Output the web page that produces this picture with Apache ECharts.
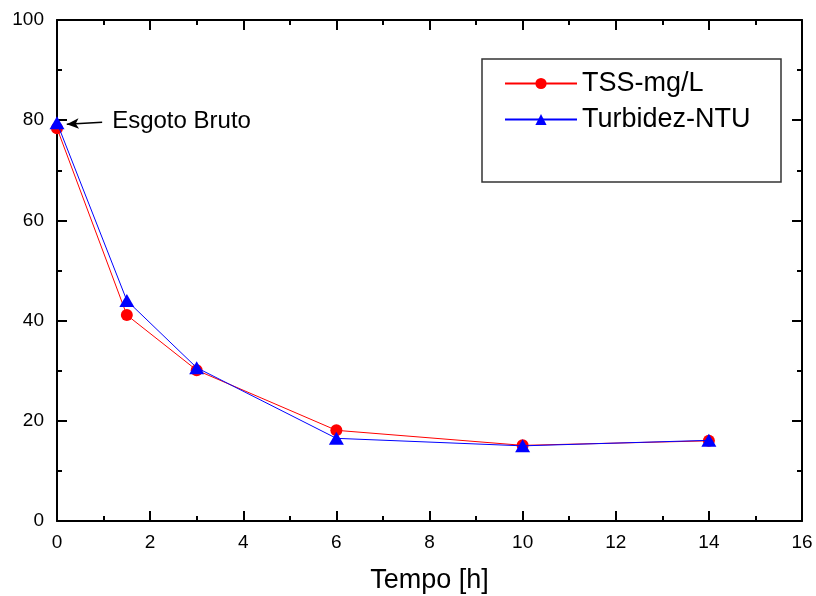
<!DOCTYPE html>
<html>
<head>
<meta charset="utf-8">
<script src="https://cdn.jsdelivr.net/npm/echarts@6/dist/echarts.min.js"></script>
<style>
  html, body { margin: 0; padding: 0; background: #fff; }
  #chart { width: 816px; height: 596px; }
</style>
</head>
<body>
<div id="chart"></div>
<script>
// tempo [h]
const tempo = [0, 1.5, 3, 6, 10, 14];
const tss = [78.4, 41.1, 30.1, 18.1, 15.1, 16.0];
const turbidez = [79.5, 44.0, 30.6, 16.5, 15.0, 16.1];

const font = 'Liberation Sans, Arial, sans-serif';

const pairs = (xs, ys) => xs.map((x, i) => [x, ys[i]]);

const chart = echarts.init(document.getElementById('chart'));

const tickCommon = {
    axisLine: { show: true, onZero: false, lineStyle: { color: '#000', width: 2 } },
    axisTick: { show: true, inside: true, length: 10, lineStyle: { color: '#000', width: 2 } },
    minorTick: { show: true, splitNumber: 2, length: 5, lineStyle: { color: '#000', width: 2 } },
    splitLine: { show: false },
    minorSplitLine: { show: false }
};

chart.setOption({
    animation: false,
    textStyle: { fontFamily: font },
    grid: { left: 57, right: 14, top: 20, bottom: 75, outerBoundsMode: 'none' },
    legend: {
        orient: 'vertical',
        left: 499,
        top: 65,
        itemWidth: 72,
        itemHeight: 14,
        itemGap: 9,
        textStyle: { fontSize: 27, color: '#000', fontFamily: font },
        data: ['TSS-mg/L', 'Turbidez-NTU']
    },
    graphic: [{
        type: 'rect',
        shape: { x: 482, y: 59, width: 299, height: 123 },
        style: { fill: 'none', stroke: '#333', lineWidth: 1.5 },
        z: 10
    }],
    xAxis: [{
        type: 'value', min: 0, max: 16, interval: 2,
        ...tickCommon,
        name: 'Tempo [h]', nameLocation: 'middle', nameGap: 46,
        nameTextStyle: { fontSize: 27, color: '#000', fontFamily: font },
        axisLabel: { fontSize: 19, color: '#000', margin: 12, fontFamily: font }
    }, {
        type: 'value', min: 0, max: 16, interval: 2, position: 'top',
        ...tickCommon,
        axisLabel: { show: false }
    }],
    yAxis: [{
        type: 'value', min: 0, max: 100, interval: 20,
        ...tickCommon,
        axisLabel: { fontSize: 19, color: '#000', margin: 13, fontFamily: font }
    }, {
        type: 'value', min: 0, max: 100, interval: 20, position: 'right',
        ...tickCommon,
        axisLabel: { show: false }
    }],
    series: [{
        name: 'TSS-mg/L',
        type: 'line',
        data: pairs(tempo, tss),
        symbol: 'circle',
        symbolSize: 12,
        itemStyle: { color: '#ff0000' },
        lineStyle: { color: '#ff0000', width: 1 },
        z: 3
    }, {
        name: 'Turbidez-NTU',
        type: 'line',
        data: pairs(tempo, turbidez),
        symbol: 'triangle',
        symbolSize: [15, 13],
        itemStyle: { color: '#0000ff' },
        lineStyle: { color: '#0000ff', width: 1 },
        z: 4,
        markLine: {
            silent: true,
            animation: false,
            lineStyle: { color: '#000', width: 1.5, type: 'solid' },
            symbolSize: [8, 12],
            label: {
                show: true, position: 'end', distance: 10,
                formatter: 'Esgoto Bruto',
                fontSize: 24, color: '#000', fontFamily: font
            },
            data: [[
                { coord: [0.21, 79.2], symbol: 'arrow' },
                { coord: [0.97, 79.6], symbol: 'none' }
            ]]
        }
    }]
});
</script>
</body>
</html>
